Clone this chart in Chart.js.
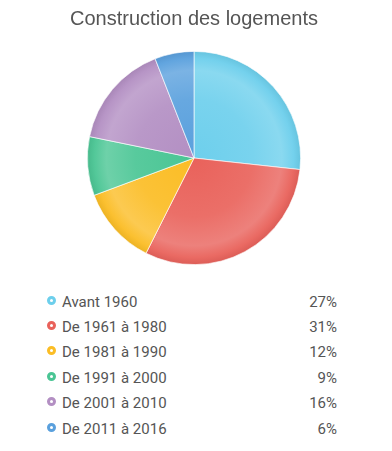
<!DOCTYPE html>
<html><head><meta charset="utf-8">
<script src="https://cdn.jsdelivr.net/npm/chart.js@4/dist/chart.umd.min.js"></script>
<style>
html,body{margin:0;padding:0;background:#fff;width:392px;height:451px;overflow:hidden}
#wrap{position:relative;width:392px;height:266px}
#legend{position:absolute;left:0;top:289px;width:392px;font-family:Roboto,sans-serif;font-size:15px;color:#555}
.row{position:absolute;left:0;width:392px;height:26px}
.dot{position:absolute;left:47px;top:7px;width:3px;height:3px;border-radius:50%;border:3px solid #000;box-sizing:content-box}
.lab{position:absolute;left:62px;top:0;line-height:26px}
.val{position:absolute;right:55px;top:0;line-height:26px}
</style></head><body>
<div id="wrap"><canvas id="c" width="392" height="266"></canvas></div>
<div id="legend"></div>
<script>
const categories = ["Avant 1960","De 1961 à 1980","De 1981 à 1990","De 1991 à 2000","De 2001 à 2010","De 2011 à 2016"];
const values = [27,31,12,9,16,6];
const colors = ["#6dcfec","#e9625b","#fbbd25","#4ac594","#b38fc3","#5aa0dd"];
const titleText = "Construction des logements";

function mix(hex, t, target){
  const n=parseInt(hex.slice(1),16);
  let r=n>>16,g=(n>>8)&255,b=n&255;
  const tv=target;
  r=Math.round(r+(tv-r)*t);g=Math.round(g+(tv-g)*t);b=Math.round(b+(tv-b)*t);
  return `rgb(${r},${g},${b})`;
}
function grad(ctx){
  const chart=ctx.chart, a=chart.chartArea;
  if(!a) return colors[ctx.dataIndex];
  const base=colors[ctx.dataIndex];
  const cx=(a.left+a.right)/2, cy=(a.top+a.bottom)/2;
  const r=Math.min(a.right-a.left,a.bottom-a.top)/2;
  const g=chart.ctx.createRadialGradient(cx,cy,0,cx,cy,r);
  g.addColorStop(0,base);
  g.addColorStop(0.55,mix(base,0.08,255));
  g.addColorStop(0.82,mix(base,0.2,255));
  g.addColorStop(0.93,mix(base,0.05,255));
  g.addColorStop(1,mix(base,0.06,0));
  return g;
}
new Chart(document.getElementById('c'),{
  type:'pie',
  data:{labels:categories,datasets:[{data:values,backgroundColor:grad,borderColor:'rgba(255,255,255,0.8)',borderWidth:0.8}]},
  options:{
    responsive:false,animation:false,
    layout:{padding:{left:0,right:4,top:0,bottom:1}},
    plugins:{
      legend:{display:false},tooltip:{enabled:false},
      title:{display:true,text:titleText,color:'#555',font:{family:'"Liberation Sans", Arial, sans-serif',size:20,weight:'normal'},padding:{top:7,bottom:20}}
    }
  }
});
const lg=document.getElementById('legend');
const rowTops=[0,25,50,76,101,127];
categories.forEach((c,i)=>{
  const row=document.createElement('div');row.className='row';row.style.top=rowTops[i]+'px';
  const d=document.createElement('span');d.className='dot';d.style.borderColor=colors[i];
  const l=document.createElement('span');l.className='lab';l.textContent=c;
  const v=document.createElement('span');v.className='val';v.textContent=values[i]+'%';
  row.appendChild(d);row.appendChild(l);row.appendChild(v);lg.appendChild(row);
});
</script>
</body></html>
